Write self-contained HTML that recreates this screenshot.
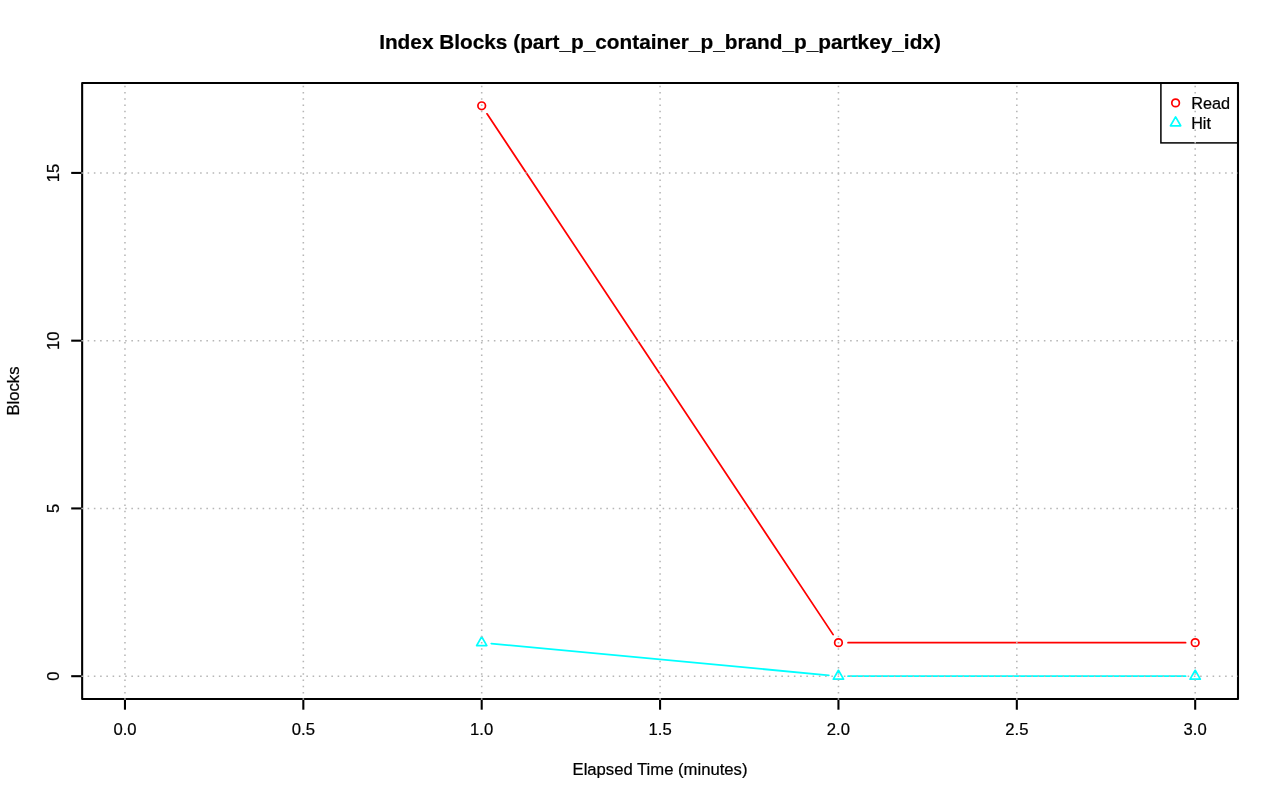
<!DOCTYPE html>
<html><head><meta charset="utf-8"><title>Index Blocks</title>
<style>html,body{margin:0;padding:0;background:#fff}svg{display:block}svg{will-change:transform}text{font-family:"Liberation Sans",sans-serif;fill:#000;stroke:#000;stroke-width:0.22px}</style>
</head><body>
<svg width="1280" height="801" viewBox="0 0 1280 801">
<rect width="1280" height="801" fill="#fff"/>
<text x="660" y="48.8" font-size="20.8" font-weight="bold" text-anchor="middle">Index Blocks (part_p_container_p_brand_p_partkey_idx)</text>
<line x1="487.02" y1="113.81" x2="833.13" y2="634.64" stroke="#ff0000" stroke-width="1.75" stroke-linecap="round"/>
<line x1="848.05" y1="642.63" x2="1185.59" y2="642.63" stroke="#ff0000" stroke-width="1.75" stroke-linecap="round"/>
<line x1="491.26" y1="643.53" x2="828.89" y2="675.29" stroke="#00ffff" stroke-width="1.75" stroke-linecap="round"/>
<line x1="848.05" y1="676.19" x2="1185.59" y2="676.19" stroke="#00ffff" stroke-width="1.75" stroke-linecap="round"/>
<circle cx="481.70" cy="105.81" r="3.8" fill="none" stroke="#ff0000" stroke-width="1.7"/>
<circle cx="838.45" cy="642.63" r="3.8" fill="none" stroke="#ff0000" stroke-width="1.7"/>
<circle cx="1195.19" cy="642.63" r="3.8" fill="none" stroke="#ff0000" stroke-width="1.7"/>
<polygon points="481.70,636.72 486.82,645.59 476.59,645.59" fill="none" stroke="#00ffff" stroke-width="1.7" stroke-linejoin="round"/>
<polygon points="838.45,670.28 843.56,679.14 833.33,679.14" fill="none" stroke="#00ffff" stroke-width="1.7" stroke-linejoin="round"/>
<polygon points="1195.19,670.28 1200.31,679.14 1190.07,679.14" fill="none" stroke="#00ffff" stroke-width="1.7" stroke-linejoin="round"/>
<line x1="124.96" y1="699.0" x2="124.96" y2="709.7" stroke="#000" stroke-width="2.08"/>
<text x="124.96" y="734.6" font-size="16.67" text-anchor="middle">0.0</text>
<line x1="303.33" y1="699.0" x2="303.33" y2="709.7" stroke="#000" stroke-width="2.08"/>
<text x="303.33" y="734.6" font-size="16.67" text-anchor="middle">0.5</text>
<line x1="481.70" y1="699.0" x2="481.70" y2="709.7" stroke="#000" stroke-width="2.08"/>
<text x="481.70" y="734.6" font-size="16.67" text-anchor="middle">1.0</text>
<line x1="660.07" y1="699.0" x2="660.07" y2="709.7" stroke="#000" stroke-width="2.08"/>
<text x="660.07" y="734.6" font-size="16.67" text-anchor="middle">1.5</text>
<line x1="838.45" y1="699.0" x2="838.45" y2="709.7" stroke="#000" stroke-width="2.08"/>
<text x="838.45" y="734.6" font-size="16.67" text-anchor="middle">2.0</text>
<line x1="1016.82" y1="699.0" x2="1016.82" y2="709.7" stroke="#000" stroke-width="2.08"/>
<text x="1016.82" y="734.6" font-size="16.67" text-anchor="middle">2.5</text>
<line x1="1195.19" y1="699.0" x2="1195.19" y2="709.7" stroke="#000" stroke-width="2.08"/>
<text x="1195.19" y="734.6" font-size="16.67" text-anchor="middle">3.0</text>
<line x1="82.15" y1="676.19" x2="71.2" y2="676.19" stroke="#000" stroke-width="2.08"/>
<text transform="translate(58.6,676.19) rotate(-90)" font-size="16.67" text-anchor="middle">0</text>
<line x1="82.15" y1="508.43" x2="71.2" y2="508.43" stroke="#000" stroke-width="2.08"/>
<text transform="translate(58.6,508.43) rotate(-90)" font-size="16.67" text-anchor="middle">5</text>
<line x1="82.15" y1="340.67" x2="71.2" y2="340.67" stroke="#000" stroke-width="2.08"/>
<text transform="translate(58.6,340.67) rotate(-90)" font-size="16.67" text-anchor="middle">10</text>
<line x1="82.15" y1="172.92" x2="71.2" y2="172.92" stroke="#000" stroke-width="2.08"/>
<text transform="translate(58.6,172.92) rotate(-90)" font-size="16.67" text-anchor="middle">15</text>
<rect x="82.15" y="83.0" width="1155.85" height="616.0" fill="none" stroke="#000" stroke-width="2.08" stroke-linejoin="round"/>
<text x="660" y="774.7" font-size="16.67" text-anchor="middle">Elapsed Time (minutes)</text>
<text transform="translate(19.2,391) rotate(-90)" font-size="16.67" text-anchor="middle">Blocks</text>
<rect x="1160.9" y="83.0" width="77.09999999999991" height="59.900000000000006" fill="none" stroke="#000" stroke-width="1.5"/>
<circle cx="1175.60" cy="102.90" r="3.8" fill="none" stroke="#ff0000" stroke-width="1.7"/>
<polygon points="1175.60,116.94 1180.72,125.80 1170.48,125.80" fill="none" stroke="#00ffff" stroke-width="1.7" stroke-linejoin="round"/>
<text x="1191.2" y="108.7" font-size="16.3">Read</text>
<text x="1191.2" y="128.5" font-size="16.1">Hit</text>
<line x1="124.96" y1="699.78" x2="124.96" y2="83.0" stroke="#b6b6b6" stroke-width="1.56" stroke-dasharray="1.5625 4.6875"/>
<line x1="303.33" y1="699.78" x2="303.33" y2="83.0" stroke="#b6b6b6" stroke-width="1.56" stroke-dasharray="1.5625 4.6875"/>
<line x1="481.70" y1="699.78" x2="481.70" y2="83.0" stroke="#b6b6b6" stroke-width="1.56" stroke-dasharray="1.5625 4.6875"/>
<line x1="660.07" y1="699.78" x2="660.07" y2="83.0" stroke="#b6b6b6" stroke-width="1.56" stroke-dasharray="1.5625 4.6875"/>
<line x1="838.45" y1="699.78" x2="838.45" y2="83.0" stroke="#b6b6b6" stroke-width="1.56" stroke-dasharray="1.5625 4.6875"/>
<line x1="1016.82" y1="699.78" x2="1016.82" y2="83.0" stroke="#b6b6b6" stroke-width="1.56" stroke-dasharray="1.5625 4.6875"/>
<line x1="1195.19" y1="699.78" x2="1195.19" y2="83.0" stroke="#b6b6b6" stroke-width="1.56" stroke-dasharray="1.5625 4.6875"/>
<line x1="81.37" y1="676.19" x2="1238.0" y2="676.19" stroke="#b6b6b6" stroke-width="1.56" stroke-dasharray="1.5625 4.6875"/>
<line x1="81.37" y1="508.43" x2="1238.0" y2="508.43" stroke="#b6b6b6" stroke-width="1.56" stroke-dasharray="1.5625 4.6875"/>
<line x1="81.37" y1="340.67" x2="1238.0" y2="340.67" stroke="#b6b6b6" stroke-width="1.56" stroke-dasharray="1.5625 4.6875"/>
<line x1="81.37" y1="172.92" x2="1238.0" y2="172.92" stroke="#b6b6b6" stroke-width="1.56" stroke-dasharray="1.5625 4.6875"/>
</svg></body></html>
